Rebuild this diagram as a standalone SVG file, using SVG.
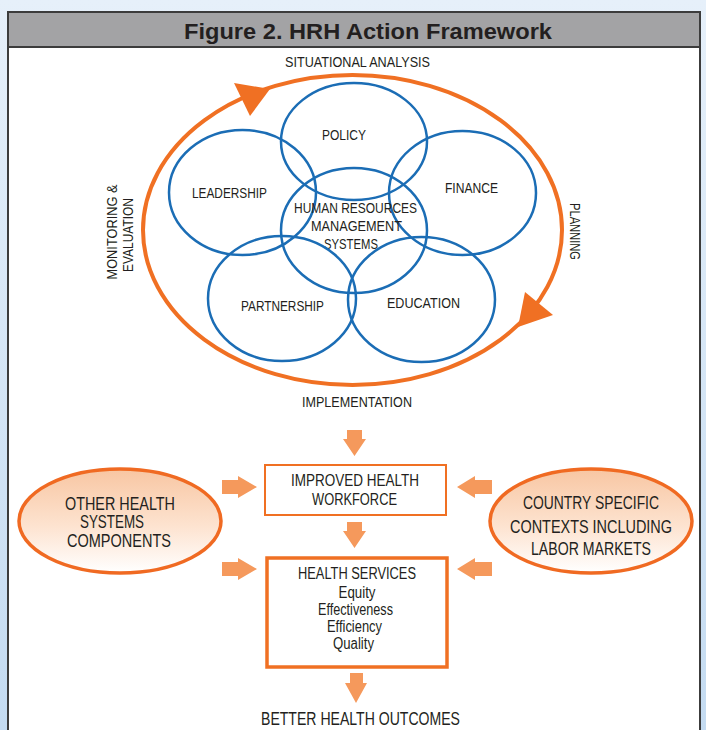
<svg xmlns="http://www.w3.org/2000/svg" width="706" height="730" viewBox="0 0 706 730">
  <defs>
    <linearGradient id="bg" x1="0" y1="0" x2="0" y2="1">
      <stop offset="0" stop-color="#e6f0fa"/>
      <stop offset="1" stop-color="#c4dbf1"/>
    </linearGradient>
    <linearGradient id="peach" x1="0" y1="0" x2="0" y2="1">
      <stop offset="0" stop-color="#f8c6a2"/>
      <stop offset="0.55" stop-color="#fde3d0"/>
      <stop offset="1" stop-color="#ffffff"/>
    </linearGradient>
  </defs>
  <style>
    .t { font-family: "Liberation Sans", Arial, sans-serif; fill: #231f20; text-anchor: middle; }
    .s { font-size: 15.5px; }
    .m { font-size: 16px; }
    .l { font-size: 17.5px; }
    .blue { fill: none; stroke: #1b6db5; stroke-width: 2.5; }
    .box { fill: #ffffff; stroke: #f07023; }
    .arr { fill: #f5995c; }
    .side { fill: url(#peach); stroke: #f06a22; stroke-width: 3.5; }
  </style>

  <rect x="0" y="0" width="706" height="730" fill="url(#bg)"/>
  <rect id="frame" x="8" y="12" width="692" height="730" fill="#ffffff" stroke="#3c3c3c" stroke-width="2"/>
  <g id="header">
    <rect x="8" y="12" width="692" height="35" fill="#a3a3a5" stroke="#3c3c3c" stroke-width="2"/>
    <text x="368" y="39" font-family="'Liberation Sans', Arial, sans-serif" font-weight="bold" font-size="22" fill="#231f20" text-anchor="middle" textLength="368" lengthAdjust="spacingAndGlyphs">Figure 2. HRH Action Framework</text>
  </g>

  <g id="cycle">
    <ellipse cx="352.5" cy="230" rx="209.5" ry="155" fill="none" stroke="#f07023" stroke-width="4"/>
    <polygon points="234,83 250,116 270,89" fill="#f07023"/>
    <polygon points="525,292 553,315 518,327" fill="#f07023"/>
  </g>

  <g id="cycle-labels">
    <text class="t s" x="357.5" y="67" textLength="145" lengthAdjust="spacingAndGlyphs">SITUATIONAL ANALYSIS</text>
    <text class="t s" x="357" y="407" textLength="110" lengthAdjust="spacingAndGlyphs">IMPLEMENTATION</text>
    <text class="t s" transform="translate(117,232) rotate(-90)" textLength="95" lengthAdjust="spacingAndGlyphs">MONITORING &amp;</text>
    <text class="t s" transform="translate(133,235) rotate(-90)" textLength="74" lengthAdjust="spacingAndGlyphs">EVALUATION</text>
    <text class="t s" transform="translate(570,231.5) rotate(90)" textLength="57" lengthAdjust="spacingAndGlyphs">PLANNING</text>
  </g>

  <g id="policy">
    <ellipse class="blue" cx="354" cy="141.5" rx="73" ry="58.5"/>
    <text class="t s" x="344" y="140" textLength="44" lengthAdjust="spacingAndGlyphs">POLICY</text>
  </g>
  <g id="leadership">
    <ellipse class="blue" cx="242.5" cy="192.5" rx="73.5" ry="62.5"/>
    <text class="t s" x="229.5" y="198" textLength="75" lengthAdjust="spacingAndGlyphs">LEADERSHIP</text>
  </g>
  <g id="finance">
    <ellipse class="blue" cx="462.5" cy="193" rx="73.5" ry="62"/>
    <text class="t s" x="471.5" y="193" textLength="53" lengthAdjust="spacingAndGlyphs">FINANCE</text>
  </g>
  <g id="hrms">
    <ellipse class="blue" cx="354" cy="230.5" rx="73" ry="62.5"/>
    <text class="t s" x="355.5" y="213" textLength="123" lengthAdjust="spacingAndGlyphs">HUMAN RESOURCES</text>
    <text class="t s" x="356.5" y="231" textLength="91" lengthAdjust="spacingAndGlyphs">MANAGEMENT</text>
    <text class="t s" x="351" y="249" textLength="54" lengthAdjust="spacingAndGlyphs">SYSTEMS</text>
  </g>
  <g id="partnership">
    <ellipse class="blue" cx="282" cy="298.5" rx="74" ry="62.5"/>
    <text class="t s" x="282.5" y="311" textLength="83" lengthAdjust="spacingAndGlyphs">PARTNERSHIP</text>
  </g>
  <g id="education">
    <ellipse class="blue" cx="421.5" cy="299.5" rx="73.5" ry="62.5"/>
    <text class="t s" x="423.5" y="308" textLength="73" lengthAdjust="spacingAndGlyphs">EDUCATION</text>
  </g>

  <g id="workforce">
    <rect class="box" x="265" y="465" width="181" height="50" stroke-width="2"/>
    <text class="t m" x="355" y="486" textLength="128" lengthAdjust="spacingAndGlyphs">IMPROVED HEALTH</text>
    <text class="t m" x="354.5" y="505" textLength="85" lengthAdjust="spacingAndGlyphs">WORKFORCE</text>
  </g>
  <g id="services">
    <rect class="box" x="267" y="558" width="180" height="109" stroke-width="3.5"/>
    <text class="t m" x="357" y="579" textLength="118" lengthAdjust="spacingAndGlyphs">HEALTH SERVICES</text>
    <text class="t m" x="357" y="598" textLength="37" lengthAdjust="spacingAndGlyphs">Equity</text>
    <text class="t m" x="355.5" y="615" textLength="75" lengthAdjust="spacingAndGlyphs">Effectiveness</text>
    <text class="t m" x="354.5" y="632" textLength="55" lengthAdjust="spacingAndGlyphs">Efficiency</text>
    <text class="t m" x="353.5" y="649" textLength="41" lengthAdjust="spacingAndGlyphs">Quality</text>
  </g>
  <g id="other">
    <ellipse class="side" cx="120" cy="521" rx="101" ry="52"/>
    <text class="t l" x="120" y="510" textLength="110" lengthAdjust="spacingAndGlyphs">OTHER HEALTH</text>
    <text class="t l" x="112" y="528" textLength="64" lengthAdjust="spacingAndGlyphs">SYSTEMS</text>
    <text class="t l" x="119" y="547" textLength="104" lengthAdjust="spacingAndGlyphs">COMPONENTS</text>
  </g>
  <g id="country">
    <ellipse class="side" cx="591" cy="521" rx="101" ry="52"/>
    <text class="t l" x="591" y="509" textLength="136" lengthAdjust="spacingAndGlyphs">COUNTRY SPECIFIC</text>
    <text class="t l" x="591" y="533" textLength="162" lengthAdjust="spacingAndGlyphs">CONTEXTS INCLUDING</text>
    <text class="t l" x="591" y="555" textLength="120" lengthAdjust="spacingAndGlyphs">LABOR MARKETS</text>
  </g>
  <g id="outcomes">
    <text class="t l" x="360.5" y="725" textLength="199" lengthAdjust="spacingAndGlyphs">BETTER HEALTH OUTCOMES</text>
  </g>

  <g id="connectors">
    <polygon class="arr" points="347,430 362,430 362,439 366,439 354.5,456 343,439 347,439"/>
    <polygon class="arr" points="347,522 362,522 362,531 366,531 354.5,548 343,531 347,531"/>
    <polygon class="arr" points="350,673 363,673 363,683 367,683 356,703 345,683 350,683"/>
    <polygon class="arr" points="222,480 238,480 238,476 257,487 238,498 238,494 222,494"/>
    <polygon class="arr" points="222,562 238,562 238,558 257,569 238,580 238,576 222,576"/>
    <polygon class="arr" points="492,480 475,480 475,476 457,487 475,498 475,494 492,494"/>
    <polygon class="arr" points="492,562 475,562 475,558 457,569 475,580 475,576 492,576"/>
  </g>
</svg>
